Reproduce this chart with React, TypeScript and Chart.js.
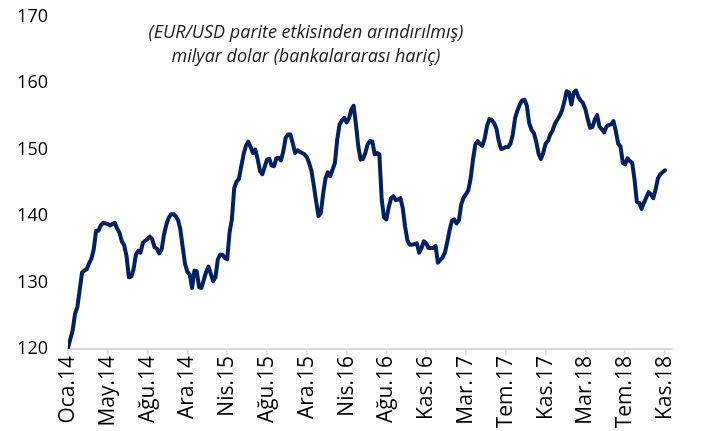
import React, { useEffect, useRef } from "react";
import { Chart, registerables } from "chart.js";

Chart.register(...registerables);

// Weekly values (billion USD), Jan 2014 – Nov 2018
const values: number[] = [
  120.2, 121.5, 122.8, 125.3, 126.3, 128.9, 131.5, 131.8, 132.0, 132.9,
  133.6, 135.0, 137.8, 137.8, 138.6, 139.0, 138.9, 138.8, 138.6, 138.8,
  139.0, 138.1, 137.5, 136.2, 135.6, 134.0, 130.8, 130.9, 132.0, 134.2,
  134.8, 134.5, 136.0, 136.3, 136.6, 136.9, 136.5, 135.3, 135.1, 134.4,
  135.0, 137.2, 138.7, 139.7, 140.3, 140.3, 140.0, 139.4, 138.0, 135.3,
  132.8, 131.6, 131.2, 129.2, 131.8, 131.7, 129.3, 129.2, 130.4, 131.6,
  132.4, 131.3, 130.2, 130.8, 133.5, 134.2, 134.2, 133.7, 133.5, 137.5,
  139.5, 144.2, 145.2, 145.6, 147.5, 149.3, 150.6, 151.2, 150.4, 149.5,
  150.0, 148.6, 146.8, 146.3, 147.4, 148.5, 148.6, 147.6, 147.5, 148.7,
  148.8, 148.4, 149.8, 151.8, 152.3, 152.3, 151.0, 149.5, 149.9, 149.7,
  149.5, 149.3, 148.9, 148.0, 146.8, 144.6, 142.2, 140.0, 140.5, 143.4,
  145.7, 146.6, 146.0, 147.0, 148.0, 151.5, 153.8, 154.4, 154.8, 154.1,
  154.7, 156.0, 156.6, 153.8, 150.5, 148.5, 148.6, 149.5, 150.8, 151.3,
  151.2, 149.3, 149.5, 149.3, 142.5, 139.8, 139.5, 141.3, 142.7, 143.0,
  142.4, 142.5, 142.7, 141.2, 138.4, 136.3, 135.7, 135.7, 135.8, 135.9,
  134.5, 135.2, 136.2, 135.9, 135.2, 135.2, 135.2, 135.5, 133.0, 133.4,
  133.8, 134.5, 136.1, 137.9, 139.3, 139.5, 138.9, 139.4, 141.8, 142.8,
  143.3, 143.9, 145.7, 148.5, 150.8, 151.3, 150.8, 150.6, 151.7, 153.6,
  154.6, 154.5, 154.0, 153.2, 151.3, 150.1, 150.2, 150.4, 150.4, 150.9,
  152.3, 154.8, 155.9, 156.8, 157.4, 157.5, 156.6, 154.0, 153.0, 152.5,
  151.2, 149.4, 148.6, 149.5, 150.9, 151.3, 152.3, 152.9, 153.9, 154.5,
  155.1, 155.9, 157.2, 158.8, 158.6, 156.8, 158.6, 158.9, 157.9, 157.4,
  157.0, 156.1, 154.6, 153.3, 153.4, 154.5, 155.2, 153.5, 153.1, 152.6,
  153.5, 153.7, 153.8, 154.3, 152.8, 150.9, 150.5, 148.0, 147.8, 148.7,
  148.3, 148.0, 145.5, 142.1, 142.0, 141.1, 142.0, 142.8, 143.6, 143.3,
  142.7, 144.0, 145.7, 146.3, 146.6, 146.9,
];

// Category tick labels, one every 17 weeks
const tickLabels: string[] = [
  "Oca.14", "May.14", "Ağu.14", "Ara.14", "Nis.15", "Ağu.15", "Ara.15", "Nis.16",
  "Ağu.16", "Kas.16", "Mar.17", "Tem.17", "Kas.17", "Mar.18", "Tem.18", "Kas.18",
];
const weeksPerTick = 17;

const yTicks: number[] = [120, 130, 140, 150, 160, 170];

const subtitleLines: string[] = [
  "(EUR/USD parite etkisinden arındırılmış)",
  "milyar dolar (bankalararası hariç)",
];

export default function App() {
  const canvasRef = useRef<HTMLCanvasElement | null>(null);

  useEffect(() => {
    document.body.style.margin = "0";
    const canvas = canvasRef.current;
    if (!canvas) return;
    const points = values.map((v, i) => ({ x: i, y: v }));
    const chart = new Chart(canvas, {
      type: "line",
      data: {
        datasets: [
          {
            data: points,
            borderColor: "#002060",
            borderWidth: 4,
            pointRadius: 0,
            tension: 0,
            fill: false,
            borderJoinStyle: "round",
            borderCapStyle: "round",
          },
        ],
      },
      options: {
        animation: false,
        responsive: false,
        maintainAspectRatio: false,
        layout: { padding: { top: 0, right: 34, left: 0, bottom: 0 } },
        plugins: { legend: { display: false }, tooltip: { enabled: false } },
        scales: {
          x: {
            type: "linear",
            min: 0,
            max: 258,
            afterBuildTicks: (scale: any) => {
              scale.ticks = tickLabels.map((_, k) => ({ value: k * weeksPerTick }));
            },
            afterFit: (scale: any) => {
              scale.height = 82;
            },
            ticks: {
              autoSkip: false,
              minRotation: 90,
              maxRotation: 90,
              padding: 1,
              color: "#000000",
              font: { family: "'Open Sans'", size: 21 },
              callback: (v: any) => tickLabels[Math.round(Number(v) / weeksPerTick)] ?? "",
            },
            grid: {
              drawOnChartArea: false,
              drawTicks: true,
              tickLength: 6,
              color: "#d9d9d9",
              lineWidth: 1.5,
            },
            border: { display: true, color: "#d9d9d9", width: 2 },
          },
          y: {
            min: 120,
            max: 170,
            afterBuildTicks: (scale: any) => {
              scale.ticks = yTicks.map((v) => ({ value: v }));
            },
            afterFit: (scale: any) => {
              scale.width = 68;
            },
            ticks: {
              padding: 20,
              color: "#000000",
              font: { family: "'Open Sans'", size: 18 },
            },
            grid: { display: false, drawTicks: false },
            border: { display: false },
          },
        },
      },
    });
    return () => chart.destroy();
  }, []);

  return (
    <div style={{ position: "relative", width: 706, height: 431, overflow: "hidden" }}>
      <canvas
        ref={canvasRef}
        width={706}
        height={445}
        style={{ display: "block", position: "absolute", left: 0, top: -14 }}
      />
      <div
        style={{
          position: "absolute",
          left: 106,
          top: 19,
          width: 400,
          textAlign: "center",
          fontFamily: "'Open Sans', sans-serif",
          fontStyle: "italic",
          fontSize: 18,
          lineHeight: "24px",
          color: "#1a1a1a",
          whiteSpace: "nowrap",
        }}
      >
        {subtitleLines.map((t) => (
          <div key={t}>{t}</div>
        ))}
      </div>
    </div>
  );
}
